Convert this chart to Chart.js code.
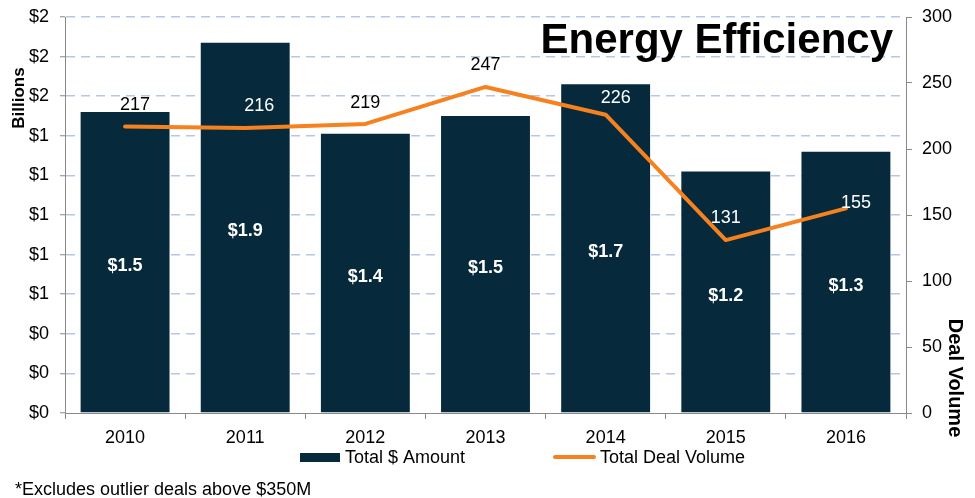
<!DOCTYPE html>
<html>
<head>
<meta charset="utf-8">
<script src="https://cdn.jsdelivr.net/npm/chart.js@4.4.1/dist/chart.umd.min.js"></script>
<style>
  html, body { margin: 0; padding: 0; background: #fff; }
  #wrap { width: 975px; height: 498px; position: relative; }
</style>
</head>
<body>
<div id="wrap"><canvas id="c" width="975" height="498"></canvas></div>
<script>
// ---- Data ----
const categories = ['2010', '2011', '2012', '2013', '2014', '2015', '2016'];
const amountBillions = [1.52, 1.87, 1.41, 1.50, 1.66, 1.22, 1.32];
const dealVolume = [217, 216, 219, 247, 226, 131, 155];
const leftTickStep = 0.2;
const rightTickStep = 50;
const seriesNames = ['Total $ Amount', 'Total Deal Volume'];
const titleText = 'Energy Efficiency';
const leftAxisTitle = 'Billions';
const rightAxisTitle = 'Deal Volume';
const footnote = '*Excludes outlier deals above $350M';

// ---- Styles ----
const FONT = '"Liberation Sans", Arial, Helvetica, sans-serif';
const BAR_COLOR = '#062a3b';
const LINE_COLOR = '#f5821f';
const AXIS_COLOR = '#898989';
const GRID_COLOR = '#b4c7e7';
// label placement offsets for the deal volume labels (px)
const volLabelDx = [10, 14, 0, 0, 10, 0, 10];
const volLabelDy = [-22, -22, -21, -22, -17, -22, -5];

const labelsPlugin = {
  id: 'customLabels',
  afterDatasetsDraw(chart) {
    const ctx = chart.ctx;
    const barMeta = chart.getDatasetMeta(0);
    const lineMeta = chart.getDatasetMeta(1);
    ctx.save();
    ctx.textAlign = 'center';
    ctx.textBaseline = 'middle';
    // bar labels
    ctx.font = 'bold 18px ' + FONT;
    ctx.fillStyle = '#ffffff';
    barMeta.data.forEach((bar, i) => {
      const v = chart.data.datasets[0].data[i];
      ctx.fillText('$' + v.toFixed(1), bar.x, (bar.y + bar.base) / 2 + 4);
    });
    // line labels
    ctx.font = '18px ' + FONT;
    lineMeta.data.forEach((pt, i) => {
      const v = chart.data.datasets[1].data[i];
      const lx = pt.x + volLabelDx[i];
      const ly = pt.y + volLabelDy[i];
      const bar = barMeta.data[i];
      const inside = lx > bar.x - bar.width / 2 && lx < bar.x + bar.width / 2 && ly > bar.y;
      ctx.fillStyle = inside ? '#ffffff' : '#000000';
      ctx.fillText(String(v), lx, ly);
    });
    ctx.restore();
  },
  afterDraw(chart) {
    const ctx = chart.ctx;
    ctx.save();
    // title
    ctx.fillStyle = '#000';
    ctx.font = 'bold 42px ' + FONT;
    ctx.textAlign = 'right';
    ctx.textBaseline = 'alphabetic';
    ctx.fillText(titleText, 893, 53);
    // left axis title
    ctx.save();
    ctx.translate(24, 98);
    ctx.rotate(-Math.PI / 2);
    ctx.font = 'bold 17px ' + FONT;
    ctx.textAlign = 'center';
    ctx.textBaseline = 'alphabetic';
    ctx.fillText(leftAxisTitle, 0, 0);
    ctx.restore();
    // right axis title
    ctx.save();
    ctx.translate(949, 378);
    ctx.rotate(Math.PI / 2);
    ctx.font = 'bold 20px ' + FONT;
    ctx.textAlign = 'center';
    ctx.textBaseline = 'alphabetic';
    ctx.fillText(rightAxisTitle, 0, 0);
    ctx.restore();
    // legend
    ctx.font = '18px ' + FONT;
    ctx.textAlign = 'left';
    ctx.textBaseline = 'middle';
    ctx.fillStyle = BAR_COLOR;
    ctx.fillRect(300, 453, 40, 9);
    ctx.fillStyle = '#000';
    ctx.fillText(chart.data.datasets[0].label, 345, 458);
    ctx.strokeStyle = LINE_COLOR;
    ctx.lineWidth = 4;
    ctx.lineCap = 'round';
    ctx.beginPath();
    ctx.moveTo(555, 457);
    ctx.lineTo(594, 457);
    ctx.stroke();
    ctx.fillStyle = '#000';
    ctx.fillText(chart.data.datasets[1].label, 600, 458);
    // footnote
    ctx.textBaseline = 'alphabetic';
    ctx.fillText(footnote, 15, 495);
    ctx.restore();
  }
};

function noPad(s) { s.paddingTop = 0; s.paddingBottom = 0; }

new Chart(document.getElementById('c'), {
  data: {
    labels: categories,
    datasets: [
      {
        type: 'bar',
        label: seriesNames[0],
        data: amountBillions,
        backgroundColor: BAR_COLOR,
        yAxisID: 'y',
        order: 1,
        categoryPercentage: 1.0,
        barPercentage: 0.74
      },
      {
        type: 'line',
        label: seriesNames[1],
        data: dealVolume,
        borderColor: LINE_COLOR,
        backgroundColor: LINE_COLOR,
        borderWidth: 4,
        pointRadius: 0,
        tension: 0,
        borderCapStyle: 'round',
        borderJoinStyle: 'round',
        yAxisID: 'y1',
        order: 0
      }
    ]
  },
  options: {
    responsive: false,
    animation: false,
    devicePixelRatio: 1,
    layout: { padding: { top: 17, left: 0, right: 0, bottom: 0 } },
    plugins: {
      legend: { display: false },
      tooltip: { enabled: false },
      title: { display: false }
    },
    scales: {
      x: {
        grid: {
          display: true,
          drawOnChartArea: false,
          offset: true,
          tickLength: 6,
          color: AXIS_COLOR,
          lineWidth: 1
        },
        border: { color: AXIS_COLOR, width: 1 },
        ticks: { color: '#000', font: { size: 18, family: FONT }, padding: 8, maxRotation: 0 },
        afterFit(s) { s.height = 85; }
      },
      y: {
        position: 'left',
        min: 0,
        max: 2,
        ticks: {
          stepSize: leftTickStep,
          color: '#000',
          font: { size: 18, family: FONT },
          padding: 11,
          callback: v => '$' + Math.round(v)
        },
        grid: {
          color: c => (c.tick && c.tick.value === 0) ? 'rgba(0,0,0,0)' : GRID_COLOR,
          lineWidth: 1.5,
          tickColor: AXIS_COLOR,
          tickWidth: 1,
          tickLength: 5
        },
        border: { color: AXIS_COLOR, width: 1, dash: [9, 6] },
        afterFit(s) { s.width = 65; noPad(s); }
      },
      y1: {
        position: 'right',
        min: 0,
        max: 300,
        ticks: {
          stepSize: rightTickStep,
          color: '#000',
          font: { size: 18, family: FONT },
          padding: 10
        },
        grid: {
          drawOnChartArea: false,
          color: AXIS_COLOR,
          tickLength: 6,
          lineWidth: 1
        },
        border: { color: AXIS_COLOR, width: 1 },
        afterFit(s) { s.width = 69; noPad(s); }
      }
    }
  },
  plugins: [labelsPlugin]
});
</script>
</body>
</html>
